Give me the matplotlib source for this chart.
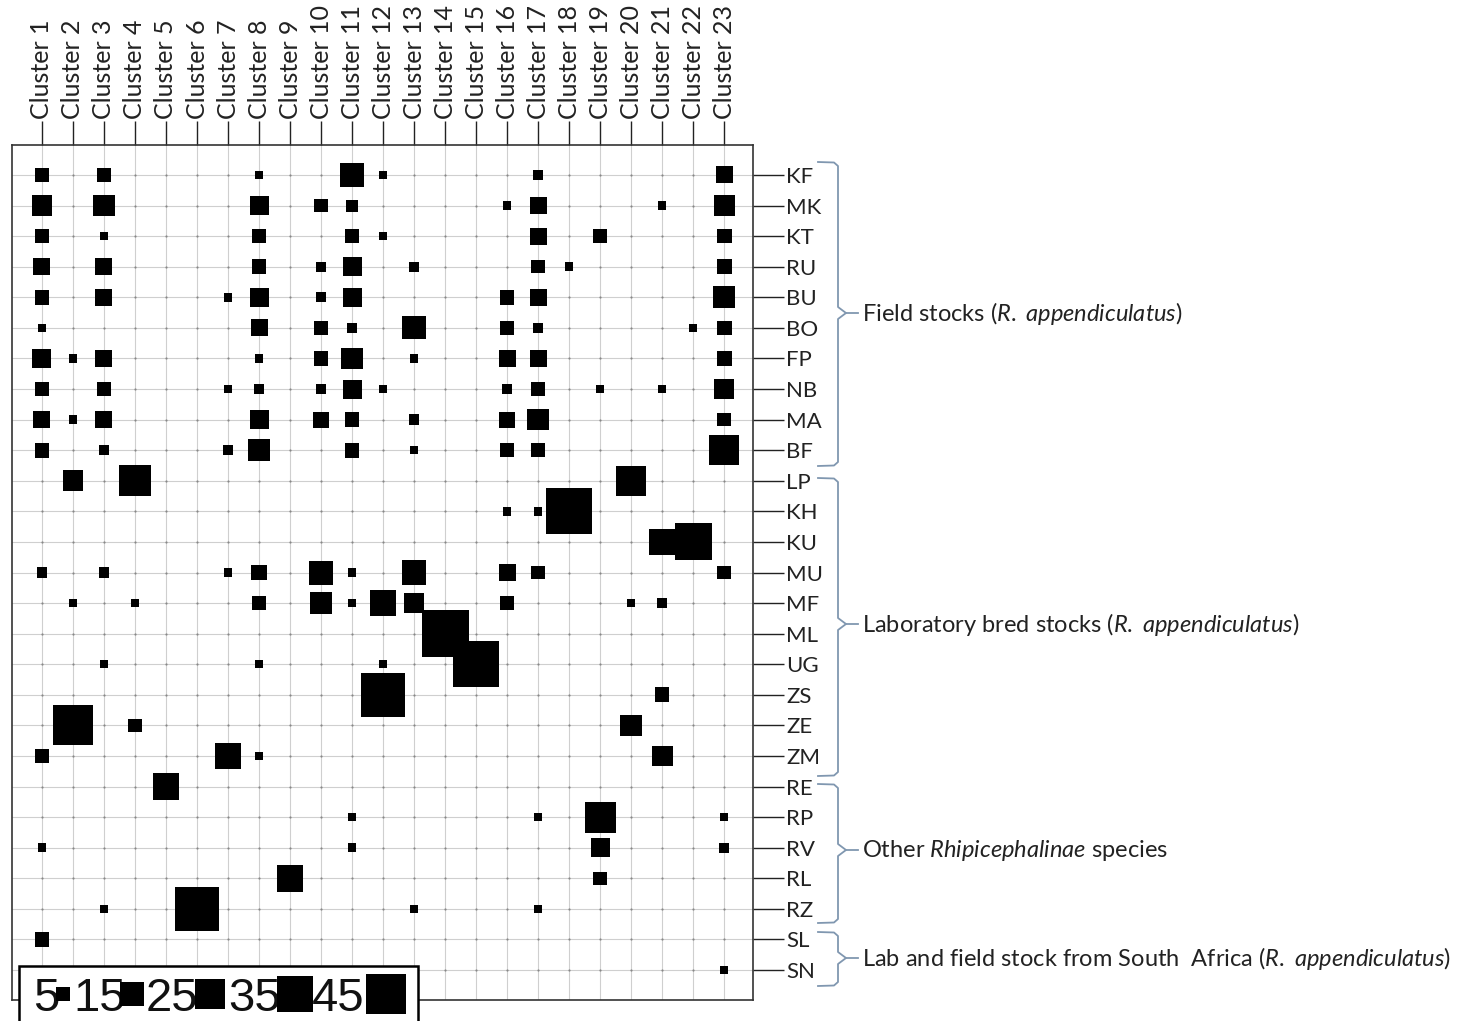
"""
Cluster membership of tick stocks: square size = number of individuals
"""
import matplotlib
matplotlib.use("Agg")
import matplotlib.pyplot as plt
from matplotlib.patches import Rectangle
import numpy as np

plt.rcParams.update({
    "font.family": ["Lato", "DejaVu Sans"],
    "mathtext.fontset": "custom",
    "mathtext.rm": "Lato",
    "mathtext.it": "Lato:italic",
})

clusters = [f"Cluster {i}" for i in range(1, 24)]

field_names = ["KF", "MK", "KT", "RU", "BU", "BO", "FP", "NB", "MA", "BF"]
lab_names = ["LP", "KH", "KU", "MU", "MF", "ML", "UG", "ZS", "ZE", "ZM"]
other_names = ["RE", "RP", "RV", "RL", "RZ"]
sa_names = ["SL", "SN"]

# one row per stock, one column per cluster
field_stocks = [
    [5, 0, 5, 0, 0, 0, 0, 2, 0, 0, 15, 2, 0, 0, 0, 0, 3, 0, 0, 0, 0, 0, 8],
    [12, 0, 13, 0, 0, 0, 0, 10, 0, 5, 4, 0, 0, 0, 0, 2, 8, 0, 0, 0, 2, 0, 12],
    [5, 0, 2, 0, 0, 0, 0, 5, 0, 0, 5, 2, 0, 0, 0, 0, 8, 0, 6, 0, 0, 0, 6],
    [8, 0, 8, 0, 0, 0, 0, 6, 0, 3, 10, 0, 3, 0, 0, 0, 5, 2, 0, 0, 0, 0, 6],
    [6, 0, 8, 0, 0, 0, 2, 10, 0, 3, 10, 0, 0, 0, 0, 6, 8, 0, 0, 0, 0, 0, 13],
    [2, 0, 0, 0, 0, 0, 0, 8, 0, 6, 3, 0, 15, 0, 0, 6, 3, 0, 0, 0, 0, 2, 6],
    [10, 2, 8, 0, 0, 0, 0, 2, 0, 6, 13, 0, 2, 0, 0, 8, 8, 0, 0, 0, 0, 0, 6],
    [6, 0, 5, 0, 0, 0, 2, 3, 0, 3, 10, 2, 0, 0, 0, 3, 6, 0, 2, 0, 2, 0, 11],
    [8, 2, 8, 0, 0, 0, 0, 10, 0, 7, 6, 0, 3, 0, 0, 7, 13, 0, 0, 0, 0, 0, 5],
    [6, 0, 3, 0, 0, 0, 3, 13, 0, 0, 6, 0, 2, 0, 0, 5, 5, 0, 0, 0, 0, 0, 25],
]
lab_stocks = [
    [0, 12, 0, 27, 0, 0, 0, 0, 0, 0, 0, 0, 0, 0, 0, 0, 0, 0, 0, 25, 0, 0, 0],
    [0, 0, 0, 0, 0, 0, 0, 0, 0, 0, 0, 0, 0, 0, 0, 2, 2, 59, 0, 0, 0, 0, 0],
    [0, 0, 0, 0, 0, 0, 0, 0, 0, 0, 0, 0, 0, 0, 0, 0, 0, 0, 0, 0, 20, 38, 0],
    [3, 0, 3, 0, 0, 0, 2, 7, 0, 16, 2, 0, 17, 0, 0, 8, 5, 0, 0, 0, 0, 0, 5],
    [0, 2, 0, 2, 0, 0, 0, 6, 0, 13, 2, 20, 11, 0, 0, 6, 0, 0, 0, 2, 3, 0, 0],
    [0, 0, 0, 0, 0, 0, 0, 0, 0, 0, 0, 0, 0, 61, 0, 0, 0, 0, 0, 0, 0, 0, 0],
    [0, 0, 2, 0, 0, 0, 0, 2, 0, 0, 0, 2, 0, 0, 59, 0, 0, 0, 0, 0, 0, 0, 0],
    [0, 0, 0, 0, 0, 0, 0, 0, 0, 0, 0, 54, 0, 0, 0, 0, 0, 0, 0, 0, 6, 0, 0],
    [0, 44, 0, 5, 0, 0, 0, 0, 0, 0, 0, 0, 0, 0, 0, 0, 0, 0, 0, 13, 0, 0, 0],
    [5, 0, 0, 0, 0, 0, 20, 2, 0, 0, 0, 0, 0, 0, 0, 0, 0, 0, 0, 0, 12, 0, 0],
]
other_species = [
    [0, 0, 0, 0, 20, 0, 0, 0, 0, 0, 0, 0, 0, 0, 0, 0, 0, 0, 0, 0, 0, 0, 0],
    [0, 0, 0, 0, 0, 0, 0, 0, 0, 0, 2, 0, 0, 0, 0, 0, 2, 0, 27, 0, 0, 0, 2],
    [2, 0, 0, 0, 0, 0, 0, 0, 0, 0, 2, 0, 0, 0, 0, 0, 0, 0, 10, 0, 0, 0, 3],
    [0, 0, 0, 0, 0, 0, 0, 0, 20, 0, 0, 0, 0, 0, 0, 0, 0, 0, 5, 0, 0, 0, 0],
    [0, 0, 2, 0, 0, 54, 0, 0, 0, 0, 0, 0, 2, 0, 0, 0, 2, 0, 0, 0, 0, 0, 0],
]
south_africa = [
    [6, 0, 0, 0, 0, 0, 0, 0, 0, 0, 0, 0, 0, 0, 0, 0, 0, 0, 0, 0, 0, 0, 0],
    [0, 0, 0, 0, 0, 0, 0, 0, 0, 0, 0, 0, 0, 0, 0, 0, 0, 0, 0, 0, 0, 0, 2],
]

group_labels = [
    r"Field stocks ($\mathit{R.\ appendiculatus}$)",
    r"Laboratory bred stocks ($\mathit{R.\ appendiculatus}$)",
    r"Other $\mathit{Rhipicephalinae}$ species",
    r"Lab and field stock from South  Africa ($\mathit{R.\ appendiculatus}$)",
]
legend_values = [5, 15, 25, 35, 45]

stocks = field_names + lab_names + other_names + sa_names
counts = np.array(field_stocks + lab_stocks + other_species + south_africa, dtype=float)

W, H = 1478, 1021
PX = 6.0  # square side in px per sqrt(count)


def marker_area(v):
    side_pt = PX * np.sqrt(v) * 72 / 100
    return side_pt ** 2


fig = plt.figure(figsize=(W / 100, H / 100), dpi=100)
ax = fig.add_axes([12 / W, 1 - 1000 / H, 741 / W, 855 / H])

n_rows, n_cols = counts.shape
xs = np.arange(1, n_cols + 1)
ys = np.arange(n_rows)
ax.set_xlim(0.034, n_cols + 0.93)
ax.set_ylim(n_rows - 1 + 0.98, -0.98)

ax.set_xticks(xs)
ax.set_xticklabels(clusters)
ax.set_yticks(ys)
ax.set_yticklabels(stocks)
ax.xaxis.tick_top()
ax.yaxis.tick_right()
ax.tick_params(axis="x", length=17, width=1.0, pad=2, labelsize=18,
               labelrotation=90, colors="#222222", labelcolor="#222222")
ax.tick_params(axis="y", length=22, width=1.0, pad=2, labelsize=16,
               colors="#222222", labelcolor="#222222")
ax.grid(True, color="#cfcfcf", linewidth=0.8)
ax.set_axisbelow(True)
for sp in ax.spines.values():
    sp.set_color("#333333")
    sp.set_linewidth(1.2)

# small dots at every grid crossing
gx, gy = np.meshgrid(xs, ys)
ax.scatter(gx.ravel(), gy.ravel(), s=2.5, c="#888888", linewidths=0, zorder=2)

rr, cc = np.nonzero(counts)
vals = counts[rr, cc]
ax.scatter(xs[cc], ys[rr], s=marker_area(vals), marker="s", c="black",
           linewidths=0, zorder=3)

# overlay in pixel coordinates for braces and size legend
ov = fig.add_axes([0, 0, 1, 1], zorder=5)
ov.set_xlim(0, W)
ov.set_ylim(H, 0)
ov.axis("off")
ov.patch.set_alpha(0)

brace_color = "#8097b0"
groups = [(162, 466, 313), (478, 776, 624), (784, 923, 850), (932, 986, 958)]
for (y0, y1, ym), label in zip(groups, group_labels):
    bx = [818, 834, 838, 838, 846, 838, 838, 834, 818]
    by = [y0, y0 + 0.5, y0 + 4, ym - 6, ym, ym + 6, y1 - 4, y1 - 0.5, y1]
    ov.plot(bx, by, color=brace_color, lw=1.3, solid_joinstyle="round")
    ov.plot([846, 858], [ym, ym], color=brace_color, lw=1.3)
    ov.text(862, ym, label, fontsize=17, va="center", ha="left", color="#222222")

ov.add_patch(Rectangle((19, 966), 399, 70, facecolor="white", edgecolor="black",
                       linewidth=1.8, clip_on=False, zorder=1))
text_x = [33, 73, 146, 228, 312]
square_x = [63, 132, 210, 295, 386]
for v, tx, sx in zip(legend_values, text_x, square_x):
    ov.text(tx, 1011, str(v), fontsize=34, family="Liberation Sans",
            va="baseline", ha="left", color="#111111", zorder=2)
    ov.scatter([sx], [994], s=marker_area(v), marker="s", c="black",
               linewidths=0, zorder=3)

fig.savefig("out.png", dpi=100)
